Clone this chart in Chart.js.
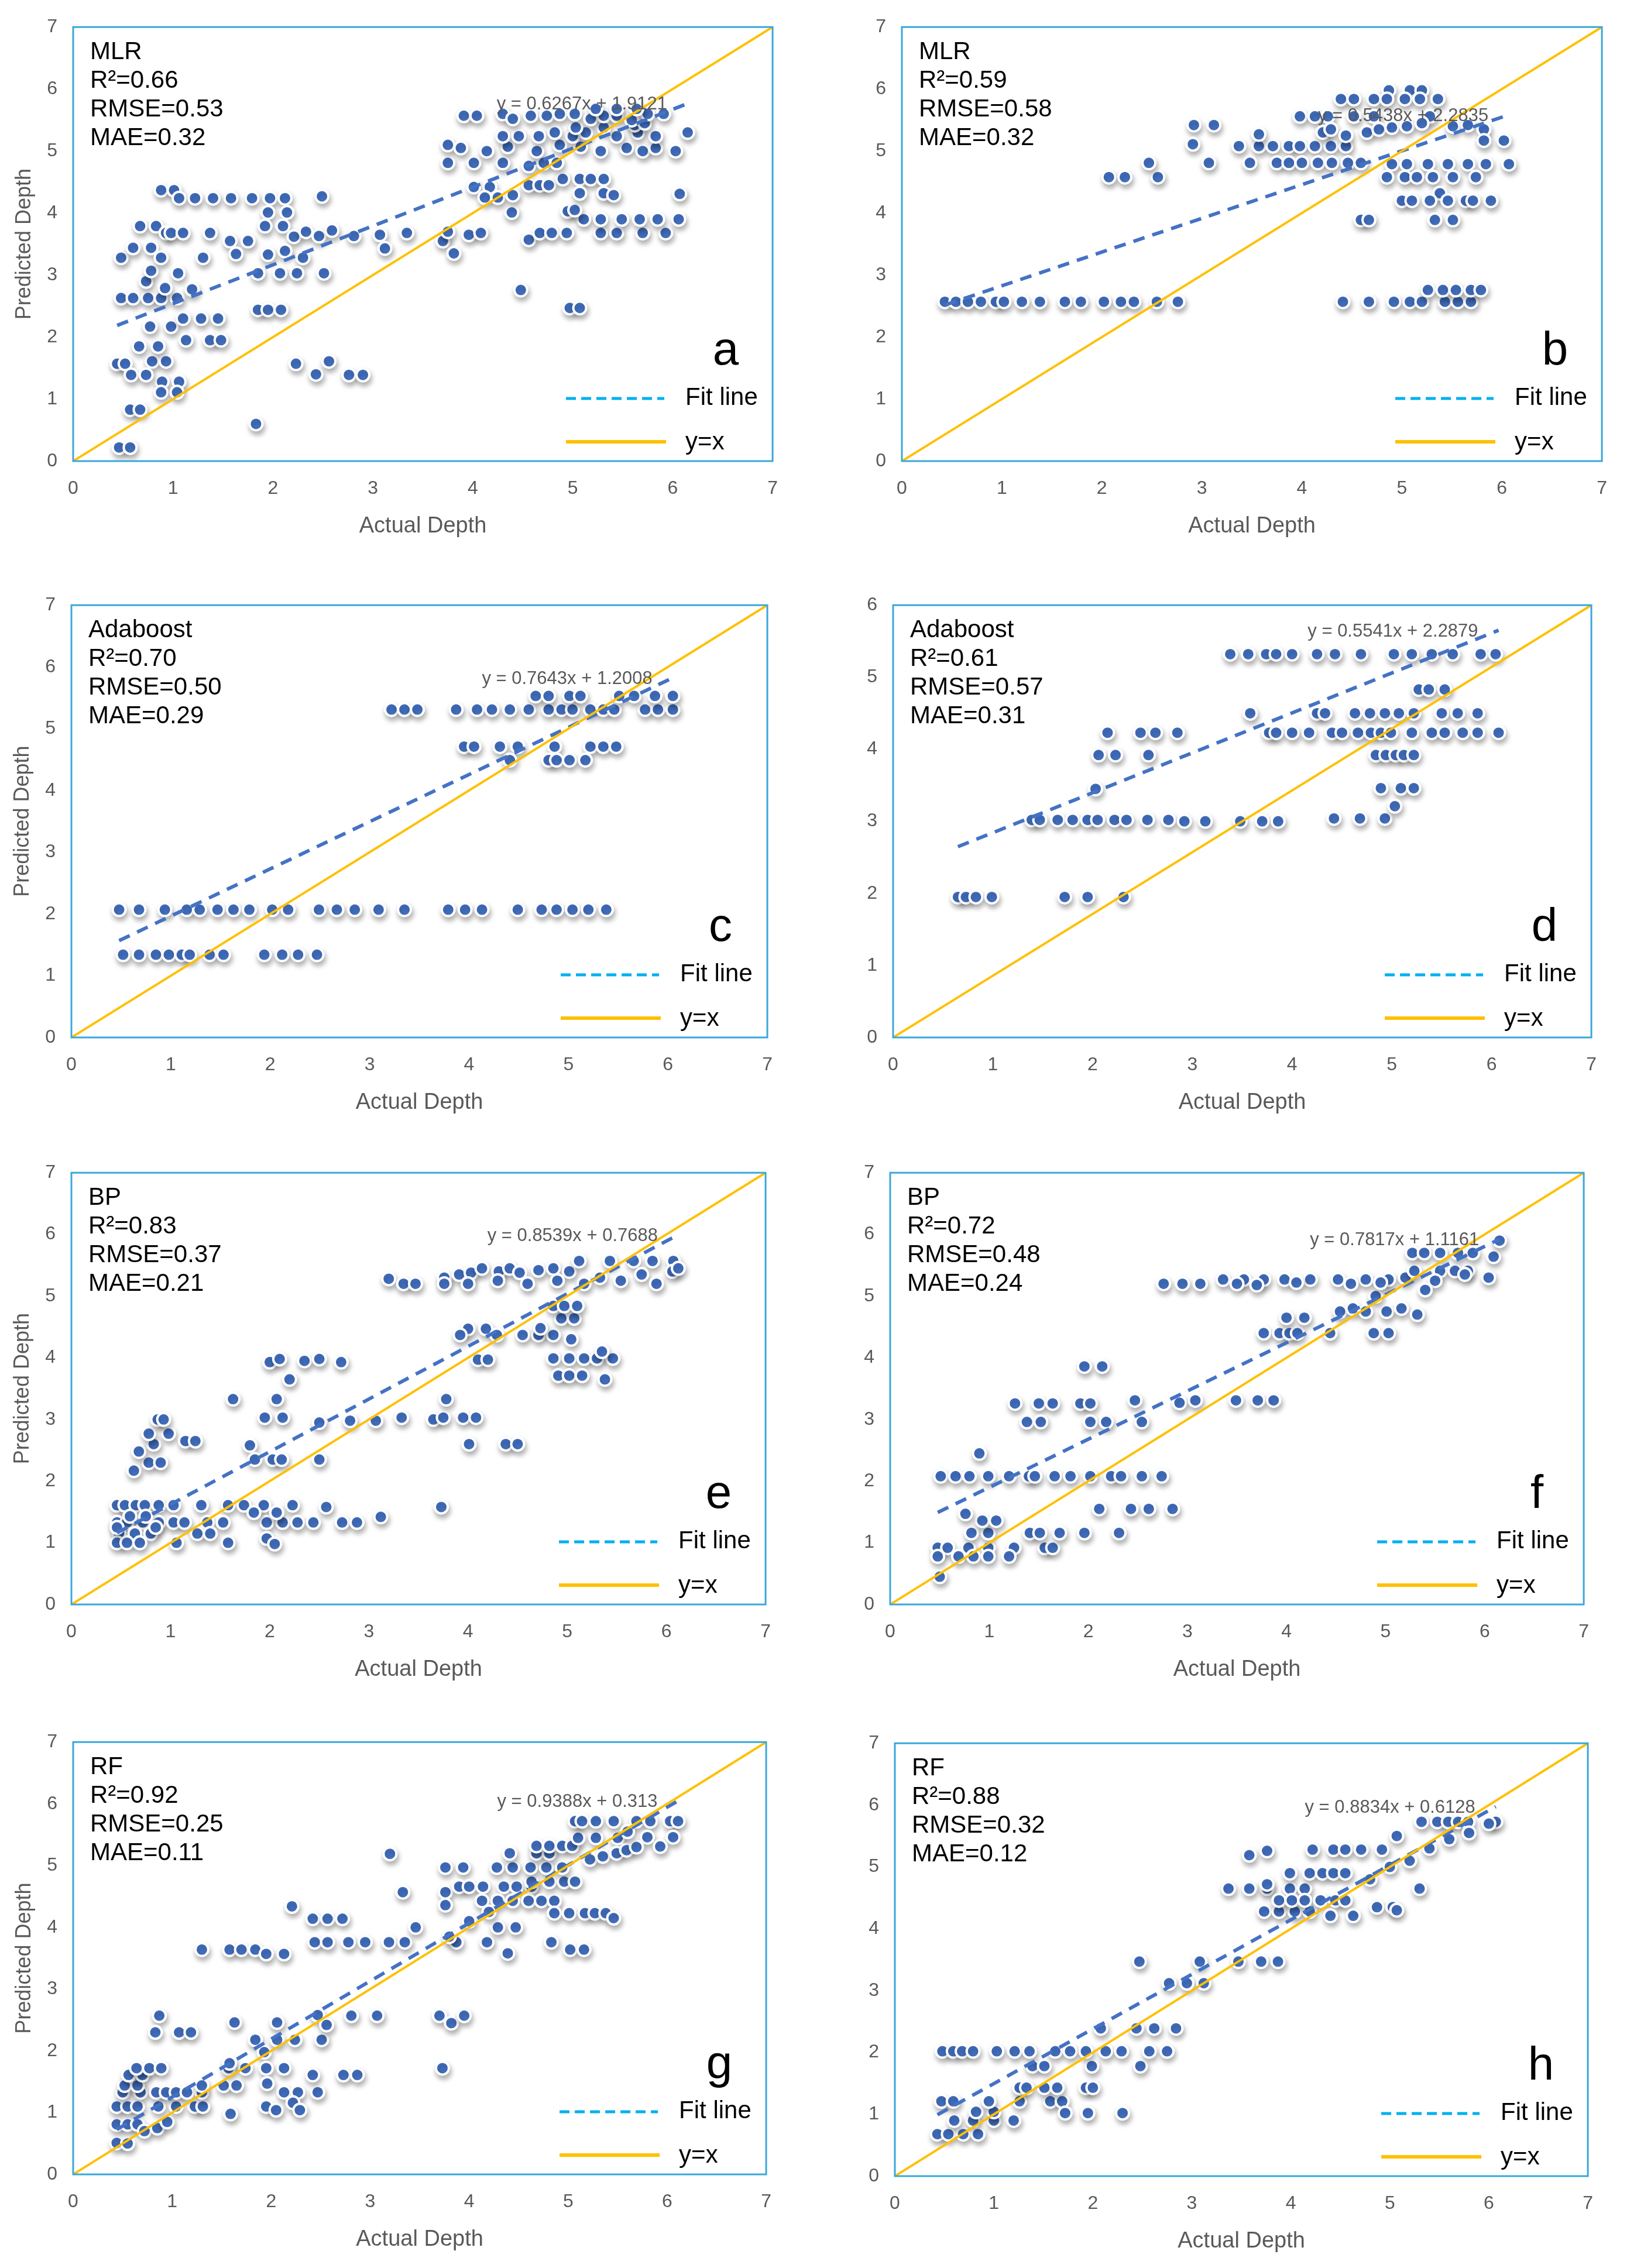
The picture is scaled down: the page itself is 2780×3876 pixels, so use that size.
<!DOCTYPE html>
<html>
<head>
<meta charset="utf-8">
<script src="https://cdn.jsdelivr.net/npm/chart.js@4.4.1/dist/chart.umd.min.js"></script>
<style>
  html, body { margin: 0; padding: 0; background: #fff; }
  body { width: 2780px; height: 3876px; position: relative; overflow: hidden; }
  canvas { position: absolute; }
</style>
</head>
<body>
<script>
// panel texts
const panelLetters = ['a', 'b', 'c', 'd', 'e', 'f', 'g', 'h'];
const modelNames = ['MLR', 'MLR', 'Adaboost', 'Adaboost', 'BP', 'BP', 'RF', 'RF'];
const r2Values = ['0.66', '0.59', '0.70', '0.61', '0.83', '0.72', '0.92', '0.88'];
const rmseValues = ['0.53', '0.58', '0.50', '0.57', '0.37', '0.48', '0.25', '0.32'];
const maeValues = ['0.32', '0.32', '0.29', '0.31', '0.21', '0.24', '0.11', '0.12'];

// trend lines (from the equations printed on the chart)
const fitSlopes = [0.6267, 0.5438, 0.7643, 0.5541, 0.8539, 0.7817, 0.9388, 0.8834];
const fitIntercepts = [1.9121, 2.2835, 1.2008, 2.2879, 0.7688, 1.1161, 0.313, 0.6128];

// axes
const xAxisMax = [7, 7, 7, 7, 7, 7, 7, 7];
const yAxisMax = [7, 7, 7, 6, 7, 7, 7, 7];
// reference line end point (panel d runs corner to corner)
const diagEndX = [7, 7, 7, 7, 7, 7, 7, 7];
const diagEndY = [7, 7, 7, 6, 7, 7, 7, 7];

// scatter points [actual, predicted]
const pointsA = [
  [0.46,0.22],[0.57,0.22],[0.57,0.83],[0.67,0.83],[1.83,0.60],
  [0.89,1.28],[1.06,1.28],[0.88,1.11],[1.04,1.11],
  [0.44,1.57],[0.52,1.57],[0.79,1.61],[0.93,1.61],[0.58,1.39],[0.73,1.39],
  [0.66,1.85],[0.85,1.85],[0.77,2.17],[0.98,2.17],
  [1.13,1.95],[1.37,1.95],[1.48,1.95],[1.10,2.30],[1.28,2.30],[1.45,2.30],
  [1.85,2.44],[1.95,2.44],[2.08,2.44],[2.23,1.57],[2.43,1.40],[2.56,1.61],[2.76,1.39],[2.90,1.39],
  [0.48,2.63],[0.60,2.63],[0.75,2.63],[0.88,2.63],[1.04,2.63],
  [0.73,2.90],[0.78,3.07],[1.05,3.03],[0.92,2.79],[1.19,2.77],
  [0.48,3.28],[0.60,3.44],[0.78,3.44],[0.88,3.28],[0.67,3.79],[0.83,3.79],[1.30,3.28],
  [0.93,3.68],[0.98,3.68],[1.10,3.68],[1.37,3.68],[1.57,3.55],[1.75,3.55],[1.63,3.34],
  [0.88,4.37],[1.01,4.37],
  [1.06,4.24],[1.22,4.24],[1.40,4.24],[1.58,4.24],[1.79,4.24],[1.97,4.24],[2.12,4.24],[2.49,4.27],
  [1.95,4.01],[2.14,4.01],[1.92,3.79],[2.10,3.79],
  [2.21,3.62],[2.33,3.70],[2.46,3.63],[2.59,3.72],[2.81,3.63],
  [1.95,3.33],[2.12,3.39],[2.30,3.28],
  [1.85,3.03],[2.07,3.03],[2.24,3.03],[2.51,3.03],
  [3.07,3.65],[3.12,3.43],[3.34,3.68],
  [3.70,3.55],[3.75,3.70],[3.81,3.35],[3.96,3.65],[4.08,3.68],
  [4.48,2.76],[4.97,2.47],[5.07,2.47],[4.39,4.01],
  [4.56,3.57],[4.67,3.68],[4.79,3.68],[4.94,3.68],
  [5.28,3.68],[5.44,3.68],[5.70,3.68],[5.93,3.68],
  [5.11,3.90],[5.28,3.90],[5.49,3.90],[5.67,3.90],[5.85,3.90],[6.06,3.90],
  [6.07,4.31],[4.95,4.03],[5.02,4.05],
  [4.01,4.42],[4.17,4.42],[4.12,4.25],[4.25,4.25],[4.40,4.29],
  [4.56,4.45],[4.67,4.45],[4.76,4.45],
  [4.90,4.55],[5.07,4.55],[5.18,4.55],[5.31,4.55],[5.07,4.32],[5.31,4.32],[5.41,4.29],
  [3.75,4.81],[4.01,4.81],[4.30,4.81],[4.56,4.76],[4.71,4.81],[4.84,4.81],
  [3.75,5.10],[3.88,5.05],[4.14,5.00],[4.35,5.07],[4.64,5.00],[4.87,5.10],[5.08,5.07],[5.28,5.00],[5.54,5.05],[5.70,5.00],[5.83,5.05],[6.03,5.00],
  [4.30,5.24],[4.46,5.24],[4.66,5.24],[4.82,5.30],[5.00,5.24],[5.13,5.30],[5.44,5.24],[5.65,5.30],[5.83,5.24],
  [5.03,5.38],[5.31,5.38],[5.62,5.42],[5.72,5.45],
  [3.91,5.57],[4.04,5.57],[4.30,5.60],[4.40,5.52],[4.58,5.57],[4.74,5.57],[4.87,5.60],[5.02,5.60],[5.18,5.52],[5.31,5.57],[5.44,5.57],[5.59,5.50],[5.75,5.60],[5.91,5.60],
  [5.23,5.68],[5.44,5.68],[5.64,5.68],[6.15,5.30]
];

const pointsB = [
  [0.43,2.57],[0.54,2.57],[0.66,2.57],[0.79,2.57],[0.94,2.57],[1.02,2.57],[1.20,2.57],[1.38,2.57],[1.63,2.57],[1.79,2.57],[2.02,2.57],[2.19,2.57],[2.32,2.57],[2.55,2.57],[2.76,2.57],
  [2.07,4.58],[2.23,4.58],[2.56,4.58],[2.47,4.81],
  [2.92,5.42],[3.12,5.42],[2.91,5.11],[3.07,4.81],
  [3.37,5.08],[3.57,5.08],[3.71,5.08],[3.87,5.08],[3.98,5.08],[4.13,5.08],[4.29,5.08],[4.44,5.08],[3.57,5.27],
  [3.48,4.81],[3.75,4.81],[3.87,4.81],[4.00,4.81],[4.16,4.81],[4.30,4.81],[4.46,4.81],[4.59,4.81],
  [4.87,5.98],[5.08,5.98],[5.20,5.98],
  [4.39,5.84],[4.52,5.84],[4.72,5.84],[4.85,5.84],[5.03,5.84],[5.18,5.84],[5.36,5.84],
  [3.98,5.56],[4.13,5.56],[4.26,5.56],[4.52,5.56],[4.72,5.56],[5.28,5.56],
  [4.21,5.30],[4.29,5.35],[4.44,5.25],[4.65,5.30],[4.77,5.35],[4.90,5.38],[5.05,5.40],[5.20,5.45],[5.51,5.40],[5.66,5.42],[5.82,5.35],
  [6.02,5.17],[5.82,5.17],
  [4.90,4.79],[5.05,4.79],[5.26,4.79],[5.46,4.79],[5.66,4.79],[5.84,4.79],[6.07,4.79],
  [4.85,4.58],[5.03,4.58],[5.15,4.58],[5.31,4.58],[5.51,4.58],[5.74,4.58],
  [5.38,4.32],
  [5.00,4.20],[5.10,4.20],[5.28,4.20],[5.46,4.20],[5.64,4.20],[5.71,4.20],[5.89,4.20],
  [4.59,3.89],[4.67,3.89],[5.33,3.89],[5.51,3.89],
  [4.41,2.57],[4.67,2.57],[4.92,2.57],[5.08,2.57],[5.20,2.57],[5.43,2.57],[5.56,2.57],[5.69,2.57],
  [5.26,2.76],[5.41,2.76],[5.54,2.76],[5.69,2.76],[5.79,2.76]
];

const pointsC = [
  [0.52,1.34],[0.68,1.34],[0.85,1.34],[0.98,1.34],[1.11,1.34],[1.19,1.34],[1.39,1.34],[1.53,1.34],[1.94,1.34],[2.12,1.34],[2.28,1.34],[2.47,1.34],
  [0.48,2.07],[0.68,2.07],[0.94,2.07],[1.16,2.07],[1.29,2.07],[1.47,2.07],[1.63,2.07],[1.79,2.07],[2.02,2.07],[2.18,2.07],[2.49,2.07],[2.67,2.07],[2.85,2.07],[3.09,2.07],[3.35,2.07],[3.79,2.07],[3.96,2.07],[4.13,2.07],[4.49,2.07],[4.73,2.07],[4.88,2.07],[5.04,2.07],[5.20,2.07],[5.38,2.07],
  [3.22,5.31],[3.35,5.31],[3.48,5.31],[3.87,5.31],[4.08,5.31],[4.23,5.31],[4.41,5.31],[4.60,5.31],[4.80,5.31],[4.93,5.31],[5.04,5.31],[5.22,5.31],[5.35,5.31],[5.46,5.31],[5.77,5.31],[5.90,5.31],[6.05,5.31],
  [4.67,5.53],[4.80,5.53],[5.01,5.53],[5.12,5.53],[5.51,5.53],[5.66,5.53],[5.87,5.53],[6.05,5.53],
  [3.95,4.71],[4.05,4.71],[4.31,4.71],[4.49,4.71],[4.86,4.71],[5.22,4.71],[5.35,4.71],[5.48,4.71],
  [4.41,4.49],[4.80,4.49],[4.88,4.49],[5.01,4.49],[5.17,4.49]
];

const pointsD = [
  [0.65,1.95],[0.73,1.95],[0.83,1.95],[0.99,1.95],[1.72,1.95],[1.95,1.95],[2.31,1.95],
  [1.39,3.02],[1.47,3.02],[1.65,3.02],[1.80,3.02],[1.95,3.02],[2.05,3.02],[2.22,3.02],[2.34,3.02],[2.55,3.02],[2.76,3.02],[2.92,3.00],[3.13,3.00],[3.48,3.00],[3.70,3.00],[3.86,3.00],[4.42,3.04],[4.68,3.04],[4.93,3.04],
  [2.03,3.45],[2.06,3.92],[2.23,3.92],[2.56,3.92],
  [2.15,4.23],[2.48,4.23],[2.63,4.23],[2.85,4.23],[3.58,4.50],
  [4.25,4.50],[4.33,4.50],[4.63,4.50],[4.78,4.50],[4.93,4.50],[5.07,4.50],[5.22,4.50],[5.50,4.50],[5.66,4.50],[5.86,4.50],
  [3.77,4.23],[3.84,4.23],[4.00,4.23],[4.17,4.23],[4.40,4.23],[4.50,4.23],[4.66,4.23],[4.79,4.23],[4.89,4.23],[4.99,4.23],[5.20,4.23],[5.40,4.23],[5.53,4.23],[5.71,4.23],[5.86,4.23],[6.07,4.23],
  [4.84,3.92],[4.94,3.92],[5.04,3.92],[5.12,3.92],[5.22,3.92],
  [5.27,4.83],[5.37,4.83],[5.53,4.83],
  [4.89,3.46],[5.09,3.46],[5.22,3.46],[5.03,3.21],
  [3.38,5.32],[3.56,5.32],[3.74,5.32],[3.84,5.32],[4.00,5.32],[4.25,5.32],[4.43,5.32],[4.69,5.32],[5.02,5.32],[5.20,5.32],[5.40,5.32],[5.61,5.32],[5.89,5.32],[6.04,5.32]
];

const pointsE = [
  [0.46,1.61],[0.54,1.61],[0.65,1.61],[0.74,1.61],[0.88,1.61],[1.03,1.61],[1.31,1.61],[1.58,1.61],[1.74,1.61],[1.94,1.61],[2.23,1.61],[2.57,1.58],[3.73,1.58],
  [0.46,1.33],[0.56,1.33],[0.72,1.33],[0.88,1.33],[1.03,1.33],[1.14,1.33],[1.37,1.33],[1.53,1.33],[1.97,1.33],[2.13,1.33],[2.28,1.33],[2.44,1.33],[2.73,1.33],[2.88,1.33],
  [0.59,1.43],[0.75,1.43],[3.12,1.42],[1.84,1.49],[2.07,1.49],
  [0.48,1.15],[0.64,1.15],[0.80,1.15],[1.27,1.15],[1.40,1.15],
  [0.46,1.00],[0.56,1.00],[0.69,1.00],[1.06,1.00],[1.58,1.00],[1.97,1.07],[2.05,0.98],
  [0.46,1.25],[0.85,1.25],
  [0.63,2.17],[0.78,2.30],[0.90,2.30],[0.68,2.48],[0.83,2.60],[0.78,2.77],[0.98,2.77],[0.87,3.00],[0.93,3.00],[1.15,2.65],[1.25,2.65],
  [1.63,3.33],[2.07,3.33],[1.95,3.03],[2.13,3.03],
  [1.80,2.58],[1.85,2.35],[2.03,2.35],[2.12,2.35],[2.50,2.35],
  [2.50,2.95],[2.81,2.98],[3.07,2.98],[3.33,3.03],
  [3.65,3.00],[3.75,3.03],[3.95,3.03],[4.08,3.03],[3.78,3.33],
  [4.01,2.60],[4.38,2.60],[4.50,2.60],
  [2.00,3.93],[2.10,3.98],[2.35,3.95],[2.50,3.98],[2.72,3.93],[2.20,3.65],
  [4.10,3.97],[4.20,3.97],[4.00,4.47],[4.18,4.47],
  [3.92,4.37],[4.29,4.37],[4.55,4.37],[4.71,4.37],[4.86,4.37],
  [4.73,4.48],[4.94,4.64],[5.07,4.64],[4.86,4.84],[4.97,4.84],[5.10,4.84],[5.04,4.30],
  [4.86,3.99],[5.02,3.99],[5.17,3.99],[5.30,3.99],[5.46,3.99],[5.35,4.10],
  [4.91,3.71],[5.02,3.71],[5.15,3.71],[5.38,3.65],
  [3.20,5.28],[3.35,5.20],[3.47,5.20],
  [3.76,5.30],[3.91,5.35],[4.03,5.38],[4.14,5.45],[4.31,5.40],[4.42,5.45],[4.52,5.38],[4.71,5.42],[4.86,5.45],[5.02,5.40],
  [5.12,5.57],[5.43,5.57],[5.67,5.57],[5.86,5.57],[6.07,5.57],
  [5.17,5.20],[5.33,5.30],[5.54,5.25],[5.75,5.35],[5.90,5.20],[6.06,5.40],
  [3.76,5.20],[4.00,5.20],[4.30,5.25],[4.60,5.20],[4.90,5.25],[6.12,5.45]
];

const pointsF = [
  [0.50,0.45],
  [0.48,0.92],[0.58,0.92],[0.79,0.92],[0.99,0.92],[1.25,0.92],[1.56,0.92],[1.64,0.92],
  [0.48,0.78],[0.69,0.78],[0.84,0.78],[0.99,0.78],[1.20,0.78],
  [0.82,1.16],[0.99,1.16],[1.41,1.16],[1.51,1.16],[1.71,1.16],[1.96,1.16],[2.31,1.16],
  [0.93,1.36],[1.07,1.36],[0.76,1.47],[0.90,2.45],
  [0.51,2.08],[0.66,2.08],[0.80,2.08],[0.99,2.08],[1.20,2.08],[1.40,2.08],[1.46,2.08],[1.66,2.08],[1.82,2.08],[2.02,2.08],[2.23,2.08],[2.33,2.08],[2.54,2.08],[2.74,2.08],
  [2.11,1.55],[2.43,1.55],[2.61,1.55],[2.85,1.55],
  [1.26,3.26],[1.50,3.26],[1.64,3.26],[1.92,3.26],[2.02,3.26],
  [1.38,2.96],[1.52,2.96],[2.02,2.96],[2.18,2.96],[2.54,2.96],
  [2.47,3.31],[1.96,3.86],[2.14,3.86],[2.92,3.27],[3.08,3.31],[3.49,3.31],[3.71,3.31],[3.87,3.31],
  [3.77,4.40],[3.93,4.40],[4.03,4.40],[4.11,4.40],[4.44,4.40],[4.88,4.40],[5.03,4.40],
  [4.00,4.65],[4.18,4.65],
  [4.54,4.75],[4.67,4.80],[4.80,4.75],[5.01,4.75],[5.16,4.80],[5.32,4.70],[4.90,5.00],
  [2.76,5.20],[2.95,5.20],[3.13,5.20],
  [3.36,5.27],[3.57,5.27],[3.77,5.27],[3.98,5.27],[4.24,5.27],[4.52,5.27],[4.80,5.27],[5.03,5.27],
  [3.50,5.20],[3.70,5.18],[4.10,5.22],[4.65,5.20],[4.95,5.22],[5.20,5.30],
  [5.29,5.41],[5.55,5.41],[5.70,5.41],[5.83,5.41],[6.04,5.30],
  [5.27,5.70],[5.39,5.70],[5.55,5.70],[5.73,5.70],[5.88,5.70],[6.09,5.64],
  [5.50,5.25],[5.80,5.35],[5.40,5.10],[6.15,5.90]
];

const pointsG = [
  [0.44,0.51],[0.55,0.50],[0.44,0.81],[0.55,0.81],[0.65,0.81],[0.72,0.70],[0.85,0.75],[0.95,0.85],
  [0.44,1.10],[0.55,1.10],[0.65,1.10],[0.86,1.10],[1.04,1.10],[1.23,1.10],[1.31,1.10],
  [0.50,1.33],[0.68,1.33],[0.84,1.33],[0.94,1.33],[1.04,1.33],[1.15,1.33],[1.30,1.33],
  [0.52,1.44],[0.65,1.44],[1.30,1.44],[1.52,1.44],[1.65,1.44],
  [0.56,1.61],[0.70,1.61],[0.64,1.72],[0.77,1.72],[0.89,1.72],
  [1.59,0.98],[1.57,1.72],[1.74,1.72],[1.58,1.80],
  [1.84,2.18],[1.93,1.98],[2.06,2.18],[2.24,2.18],[2.51,2.18],
  [1.95,1.72],[2.13,1.72],[1.96,1.47],[1.95,1.10],[2.05,1.04],
  [2.13,1.33],[2.27,1.33],[2.47,1.33],[2.22,1.16],[2.29,1.04],[2.42,1.61],[2.73,1.61],[2.87,1.61],[3.73,1.72],
  [0.87,2.57],[0.83,2.30],[1.07,2.30],[1.19,2.30],[1.63,2.46],[2.06,2.46],[2.47,2.58],[2.56,2.42],[2.81,2.57],[3.07,2.57],[3.70,2.57],[3.82,2.45],[3.95,2.57],
  [1.30,3.64],[1.58,3.64],[1.70,3.64],[1.84,3.64],[1.95,3.57],[2.13,3.57],
  [2.21,4.34],[2.42,4.14],[2.57,4.14],[2.72,4.14],
  [2.44,3.76],[2.57,3.76],[2.78,3.76],[2.95,3.76],[3.19,3.76],[3.35,3.76],
  [3.46,4.00],[3.33,4.57],[3.20,5.19],[3.76,4.97],[3.94,4.97],[3.76,4.57],[3.76,4.36],
  [3.87,3.76],[4.18,3.76],[4.39,3.58],[4.29,4.00],[4.47,4.00],
  [3.90,4.66],[4.00,4.66],[4.14,4.66],[4.35,4.66],[4.48,4.66],[4.63,4.66],
  [4.13,4.43],[4.29,4.43],[4.44,4.43],[4.60,4.43],[4.73,4.43],[4.86,4.43],
  [4.63,4.74],[4.81,4.74],[4.96,4.74],[5.07,4.74],
  [4.86,4.23],[5.01,4.23],[5.17,4.23],[5.27,4.23],[5.38,4.23],[5.46,4.15],
  [4.83,3.76],[5.02,3.64],[5.16,3.64],
  [4.28,4.97],[4.44,4.97],[4.62,4.97],[4.78,4.97],[4.94,4.97],
  [4.41,5.20],[4.68,5.20],[4.81,5.20],
  [4.68,5.32],[4.81,5.32],[4.94,5.32],[5.04,5.32],
  [5.10,5.45],[5.28,5.45],[5.50,5.45],
  [5.07,5.72],[5.14,5.72],[5.28,5.72],[5.46,5.72],[5.69,5.72],[5.83,5.72],[6.03,5.72],[6.11,5.72],
  [5.80,5.46],[6.06,5.46],[5.93,5.31],
  [5.22,5.10],[5.35,5.15],[5.49,5.20],[5.59,5.25],[5.69,5.30],
  [4.20,4.25],[4.00,4.10],[3.80,3.85],[5.60,5.55]
];

const pointsH = [
  [0.43,0.68],[0.54,0.68],[0.69,0.68],[0.84,0.68],
  [0.60,0.90],[0.79,0.90],[1.00,0.90],[1.20,0.90],
  [0.82,1.04],[1.00,1.04],
  [0.47,1.21],[0.59,1.21],[0.95,1.21],[1.26,1.21],[1.57,1.21],[1.69,1.21],
  [1.72,1.02],[1.95,1.02],[2.30,1.02],
  [1.26,1.43],[1.33,1.43],[1.51,1.43],[1.64,1.43],[1.93,1.43],[2.00,1.43],
  [1.39,1.78],[1.51,1.78],[1.99,1.78],[2.48,1.78],
  [0.48,2.02],[0.59,2.02],[0.68,2.02],[0.79,2.02],[1.03,2.02],[1.21,2.02],[1.36,2.02],[1.62,2.02],[1.77,2.02],[1.93,2.02],[2.13,2.02],[2.29,2.02],[2.57,2.02],[2.75,2.02],
  [2.08,2.39],[2.44,2.39],[2.62,2.39],[2.84,2.39],
  [2.47,3.47],[2.77,3.12],[2.95,3.12],[3.12,3.12],
  [3.08,3.47],[3.47,3.47],[3.70,3.47],[3.87,3.47],
  [3.58,5.19],[3.76,5.26],
  [3.37,4.65],[3.58,4.65],[3.76,4.65],[3.99,4.65],[4.14,4.65],[5.30,4.65],[3.76,4.72],
  [3.73,4.28],[3.88,4.28],[4.04,4.28],[4.19,4.28],
  [3.88,4.46],[4.01,4.46],[4.14,4.46],[4.30,4.46],[4.45,4.46],[4.55,4.46],
  [4.40,4.21],[4.63,4.21],[4.87,4.35],[5.03,4.35],[5.07,4.30],
  [3.99,4.90],[4.19,4.90],[4.32,4.90],[4.43,4.90],[4.55,4.90],
  [4.22,5.28],[4.43,5.28],[4.55,5.28],[4.71,5.28],[4.92,5.28],
  [5.07,5.50],
  [5.32,5.73],[5.48,5.73],[5.59,5.73],[5.69,5.73],[5.79,5.73],[6.07,5.73],
  [4.80,4.80],[5.00,5.00],[5.20,5.10],[5.40,5.30],[5.60,5.45],[5.80,5.55],[6.00,5.70]
];

const panelPoints = [pointsA, pointsB, pointsC, pointsD, pointsE, pointsF, pointsG, pointsH];

// plot-area boxes on the page [left, top, right, bottom]
const panelBoxes = [
  [125, 40, 1332, 788], [1541, 40, 2749, 788],
  [122, 1028, 1323, 1773], [1526, 1028, 2731, 1773],
  [122, 1998, 1320, 2742], [1521, 1998, 2718, 2742],
  [125, 2971, 1321, 3716], [1529, 2973, 2725, 3719]
];

const FONT = "'Liberation Sans', Arial, sans-serif";
const GREY = '#595959';
const DOT_BLUE = '#4472C4';

const panelDeco = {
  id: 'panelDeco',
  beforeDatasetDraw(chart, args) {
    if (args.index !== 0) return;
    const ctx = chart.ctx;
    ctx.save();
    ctx.shadowColor = 'rgba(0,0,0,0.30)';
    ctx.shadowBlur = 10;
    ctx.shadowOffsetX = 2;
    ctx.shadowOffsetY = 6;
  },
  afterDatasetDraw(chart, args) {
    if (args.index !== 0) return;
    chart.ctx.restore();
  },
  afterDraw(chart, args, opts) {
    const i = opts.panel;
    const ctx = chart.ctx;
    const {left, top, right, bottom} = chart.chartArea;
    ctx.save();

    // frame
    ctx.strokeStyle = '#3BA7DA';
    ctx.lineWidth = 3;
    ctx.strokeRect(left, top, right - left, bottom - top);

    // metrics
    ctx.fillStyle = '#000';
    ctx.font = '42px ' + FONT;
    ctx.textAlign = 'left';
    ctx.textBaseline = 'alphabetic';
    const lines = [modelNames[i], 'R\u00B2=' + r2Values[i], 'RMSE=' + rmseValues[i], 'MAE=' + maeValues[i]];
    lines.forEach((t, k) => ctx.fillText(t, left + 29, top + 55 + k * 49));

    // trend line equation
    const pts = panelPoints[i];
    const xMax = Math.max(...pts.map(p => p[0]));
    const ex = chart.scales.x.getPixelForValue(xMax);
    const ey = chart.scales.y.getPixelForValue(fitSlopes[i] * xMax + fitIntercepts[i]);
    ctx.fillStyle = GREY;
    ctx.font = '31px ' + FONT;
    ctx.textAlign = 'right';
    ctx.textBaseline = 'middle';
    ctx.fillText('y = ' + fitSlopes[i] + 'x + ' + fitIntercepts[i], ex - 35, ey + 2);

    // panel letter
    ctx.fillStyle = '#000';
    ctx.font = '80px ' + FONT;
    ctx.textAlign = 'center';
    ctx.textBaseline = 'alphabetic';
    ctx.fillText(panelLetters[i], right - 80, bottom - 165);

    // legend
    ctx.lineWidth = 5;
    ctx.strokeStyle = '#00B0F0';
    ctx.setLineDash([17, 9]);
    ctx.beginPath();
    ctx.moveTo(right - 353, bottom - 107);
    ctx.lineTo(right - 185, bottom - 107);
    ctx.stroke();
    ctx.setLineDash([]);
    ctx.lineWidth = 6;
    ctx.strokeStyle = '#FFC000';
    ctx.beginPath();
    ctx.moveTo(right - 353, bottom - 33);
    ctx.lineTo(right - 182, bottom - 33);
    ctx.stroke();
    ctx.fillStyle = '#000';
    ctx.font = '42px ' + FONT;
    ctx.textAlign = 'left';
    ctx.fillText('Fit line', right - 149, bottom - 96);
    ctx.fillText('y=x', right - 149, bottom - 20);

    ctx.restore();
  }
};

function makeConfig(i) {
  const pts = panelPoints[i];
  const xs = pts.map(p => p[0]);
  const xMin = Math.min(...xs);
  const xMax = Math.max(...xs);
  const isLeft = i % 2 === 0;
  return {
    type: 'scatter',
    data: {
      datasets: [
        {
          data: pts.map(p => ({x: p[0], y: p[1]})),
          backgroundColor: DOT_BLUE,
          borderColor: '#ffffff',
          borderWidth: 4,
          pointRadius: 11,
          order: 3
        },
        {
          data: [
            {x: xMin, y: fitSlopes[i] * xMin + fitIntercepts[i]},
            {x: xMax, y: fitSlopes[i] * xMax + fitIntercepts[i]}
          ],
          showLine: true,
          borderColor: DOT_BLUE,
          borderWidth: 6,
          borderDash: [20, 14],
          pointRadius: 0,
          order: 2
        },
        {
          data: [{x: 0, y: 0}, {x: diagEndX[i], y: diagEndY[i]}],
          showLine: true,
          borderColor: '#FFC000',
          borderWidth: 4,
          pointRadius: 0,
          order: 1
        }
      ]
    },
    options: {
      responsive: false,
      animation: false,
      devicePixelRatio: 1,
      layout: {padding: {left: 0, top: 40, right: 25, bottom: 0}},
      plugins: {
        legend: {display: false},
        tooltip: {enabled: false},
        panelDeco: {panel: i}
      },
      scales: {
        x: {
          type: 'linear',
          min: 0,
          max: xAxisMax[i],
          ticks: {stepSize: 1, padding: 28, color: GREY, font: {family: FONT, size: 32}, maxRotation: 0},
          grid: {display: false, drawTicks: false},
          border: {display: false},
          title: {display: true, text: 'Actual Depth', color: GREY, font: {family: FONT, size: 38}, padding: {top: 0, bottom: 6}},
          afterFit: s => { s.height = 140; }
        },
        y: {
          type: 'linear',
          min: 0,
          max: yAxisMax[i],
          ticks: {stepSize: 1, padding: 27, color: GREY, font: {family: FONT, size: 32}},
          grid: {display: false, drawTicks: false},
          border: {display: false},
          title: {display: isLeft, text: 'Predicted Depth', color: GREY, font: {family: FONT, size: 36}, padding: {top: 20, bottom: 0}},
          afterFit: s => { s.width = 125; }
        }
      }
    },
    plugins: [panelDeco]
  };
}

panelBoxes.forEach((box, i) => {
  const [L, T, R, B] = box;
  const w = R - L + 150;
  const h = B - T + 180;
  const cv = document.createElement('canvas');
  cv.width = w;
  cv.height = h;
  cv.style.left = (L - 125) + 'px';
  cv.style.top = (T - 40) + 'px';
  cv.style.width = w + 'px';
  cv.style.height = h + 'px';
  document.body.appendChild(cv);
  new Chart(cv.getContext('2d'), makeConfig(i));
});
</script>
</body>
</html>
